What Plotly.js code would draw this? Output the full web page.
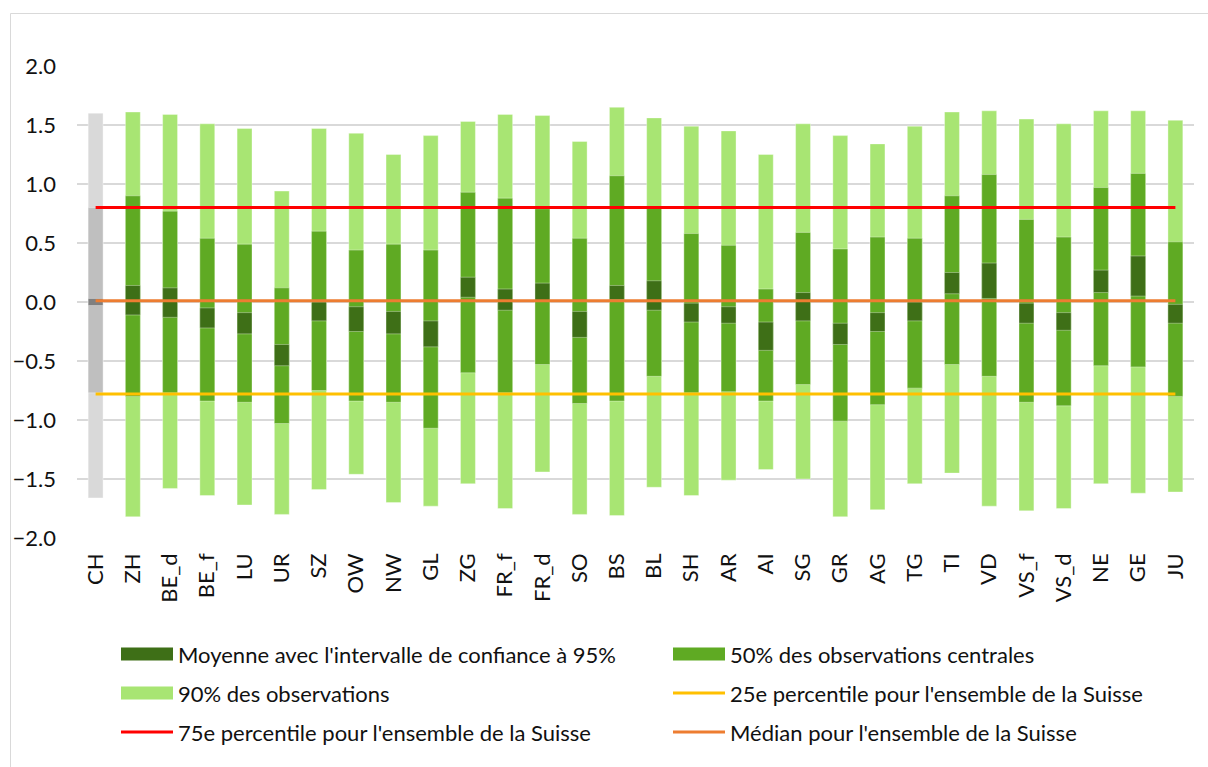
<!DOCTYPE html>
<html>
<head>
<meta charset="utf-8">
<script src="https://cdn.plot.ly/plotly-3.0.1.min.js"></script>
<style>
html,body{margin:0;padding:0;background:#fff;overflow:hidden;}
#chart{width:1208px;height:767px;}
</style>
</head>
<body>
<div id="chart"></div>
<script>
// ---- data ----
const categories = ['CH','ZH','BE_d','BE_f','LU','UR','SZ','OW','NW','GL','ZG','FR_f','FR_d','SO','BS','BL','SH','AR','AI','SG','GR','AG','TG','TI','VD','VS_f','VS_d','NE','GE','JU'];
const p95    = [1.60,1.61,1.59,1.51,1.47,0.94,1.47,1.43,1.25,1.41,1.53,1.59,1.58,1.36,1.65,1.56,1.49,1.45,1.25,1.51,1.41,1.34,1.49,1.61,1.62,1.55,1.51,1.62,1.62,1.54];
const p75    = [0.80,0.90,0.77,0.54,0.49,0.12,0.60,0.44,0.49,0.44,0.93,0.88,0.79,0.54,1.07,0.80,0.58,0.48,0.11,0.59,0.45,0.55,0.54,0.90,1.08,0.70,0.55,0.97,1.09,0.51];
const ciHigh = [0.03,0.14,0.12,-0.05,-0.09,-0.36,0.00,-0.04,-0.08,-0.16,0.21,0.11,0.16,-0.08,0.14,0.18,-0.01,-0.04,-0.17,0.08,-0.18,-0.09,0.00,0.25,0.33,-0.01,-0.09,0.27,0.39,-0.02];
const ciLow  = [-0.03,-0.11,-0.13,-0.22,-0.27,-0.54,-0.16,-0.25,-0.27,-0.38,0.04,-0.07,0.01,-0.30,0.02,-0.07,-0.17,-0.18,-0.41,-0.16,-0.36,-0.25,-0.16,0.07,0.03,-0.18,-0.24,0.08,0.05,-0.18];
const p25    = [-0.77,-0.80,-0.77,-0.84,-0.85,-1.03,-0.75,-0.84,-0.85,-1.07,-0.60,-0.77,-0.53,-0.86,-0.84,-0.63,-0.77,-0.76,-0.84,-0.70,-1.01,-0.87,-0.73,-0.53,-0.63,-0.85,-0.88,-0.54,-0.55,-0.80];
const p5     = [-1.66,-1.82,-1.58,-1.64,-1.72,-1.80,-1.59,-1.46,-1.70,-1.73,-1.54,-1.75,-1.44,-1.80,-1.81,-1.57,-1.64,-1.51,-1.42,-1.50,-1.82,-1.76,-1.54,-1.45,-1.73,-1.77,-1.75,-1.54,-1.62,-1.61];
const swissP75 = 0.80;
const swissMedian = 0.01;
const swissP25 = -0.78;
const yTicks = [-2.0,-1.5,-1.0,-0.5,0.0,0.5,1.0,1.5,2.0];

const names = {
  ci: "Moyenne avec l'intervalle de confiance à 95%",
  mid: "50% des observations centrales",
  wide: "90% des observations",
  q25: "25e percentile pour l'ensemble de la Suisse",
  q75: "75e percentile pour l'ensemble de la Suisse",
  med: "Médian pour l'ensemble de la Suisse"
};

// ---- styles ----
const FONT = 'Lato, "Open Sans", sans-serif';
const FS = 22;
const TXT = '#111111';
const col = {
  light: '#A8E573', mid: '#5FAA23', dark: '#3E6F17',
  gLight: '#D9D9D9', gMid: '#BFBFBF', gDark: '#808080',
  red: '#FF0000', orange: '#ED7D31', yellow: '#FFC000'
};
const isCH = c => c === 'CH';
const colorsFor = (g, n) => categories.map(c => isCH(c) ? g : n);
const BW = 0.40;

function rangeBar(lo, hi, colors, name){
  return {
    type: 'bar', x: categories, base: lo, y: hi.map((v,i)=>v - lo[i]),
    width: BW, name: name, showlegend: false, hoverinfo: 'skip',
    marker: {color: colors, line: {color: 'rgba(255,255,255,0.35)', width: 1}}
  };
}
function refLine(val, color, name){
  return {
    type: 'scatter', mode: 'lines', x: categories, y: categories.map(()=>val),
    name: name, showlegend: false, hoverinfo: 'skip',
    line: {color: color, width: 3}
  };
}

const traces = [
  rangeBar(p5, p95, colorsFor(col.gLight, col.light), names.wide),
  rangeBar(p25, p75, colorsFor(col.gMid, col.mid), names.mid),
  rangeBar(ciLow, ciHigh, colorsFor(col.gDark, col.dark), names.ci),
  refLine(swissP75, col.red, names.q75),
  refLine(swissMedian, col.orange, names.med),
  refLine(swissP25, col.yellow, names.q25)
];

// ---- layout geometry (pixels) ----
const W = 1208, H = 767;
const M = {l: 77, r: 14, t: 66, b: 229};
const pw = W - M.l - M.r, ph = H - M.t - M.b;
const px = v => (v - M.l) / pw;
const py = v => (H - M.b - v) / ph;

const legendItems = [
  {label: names.ci,   kind: 'box',  color: col.dark,   col: 0, row: 0},
  {label: names.mid,  kind: 'box',  color: col.mid,    col: 1, row: 0},
  {label: names.wide, kind: 'box',  color: col.light,  col: 0, row: 1},
  {label: names.q25,  kind: 'line', color: col.yellow, col: 1, row: 1},
  {label: names.q75,  kind: 'line', color: col.red,    col: 0, row: 2},
  {label: names.med,  kind: 'line', color: col.orange, col: 1, row: 2}
];
const colX = [121, 673], rowY = [654, 693, 732], swW = 52;

const shapes = [{
  type: 'rect', xref: 'paper', yref: 'paper',
  x0: px(10.5), x1: px(1230), y0: py(13.5), y1: py(800),
  line: {color: '#D9D9D9', width: 1}, fillcolor: 'rgba(0,0,0,0)'
}];
const annotations = [];
legendItems.forEach(it => {
  const x0 = colX[it.col], yc = rowY[it.row];
  if (it.kind === 'box') {
    shapes.push({type: 'rect', xref: 'paper', yref: 'paper',
      x0: px(x0), x1: px(x0 + swW), y0: py(yc + 6.5), y1: py(yc - 6.5),
      line: {width: 0}, fillcolor: it.color});
  } else {
    shapes.push({type: 'line', xref: 'paper', yref: 'paper',
      x0: px(x0), x1: px(x0 + swW), y0: py(yc), y1: py(yc),
      line: {width: 3, color: it.color}});
  }
  annotations.push({xref: 'paper', yref: 'paper', x: px(x0 + swW + 3), y: py(yc),
    xanchor: 'left', yanchor: 'middle', showarrow: false, text: it.label,
    font: {family: FONT, size: FS, color: TXT}});
});

const layout = {
  width: W, height: H,
  margin: M,
  paper_bgcolor: '#fff', plot_bgcolor: '#fff',
  barmode: 'overlay',
  showlegend: false,
  font: {family: FONT, size: FS, color: TXT},
  xaxis: {
    type: 'category', tickangle: -90, showgrid: false, zeroline: false,
    showline: false, ticks: '', ticklabelstandoff: 10,
    tickfont: {family: FONT, size: FS, color: TXT}
  },
  yaxis: {
    range: [-2, 2], tickvals: yTicks, tickformat: '.1f',
    showgrid: true, gridcolor: '#D9D9D9', gridwidth: 1.5, zeroline: false,
    showline: false, ticks: '', ticklabelstandoff: 20,
    tickfont: {family: FONT, size: FS, color: TXT}
  },
  shapes: shapes,
  annotations: annotations
};

Plotly.newPlot('chart', traces, layout, {staticPlot: true, displayModeBar: false});
</script>
</body>
</html>
